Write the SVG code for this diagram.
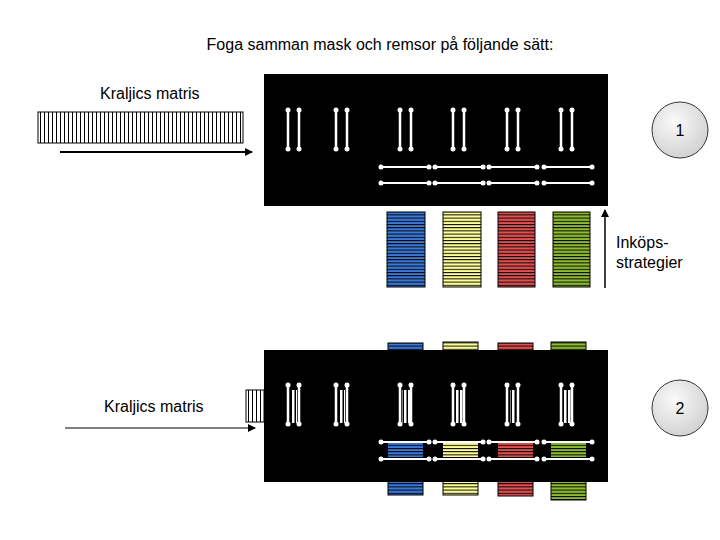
<svg xmlns="http://www.w3.org/2000/svg" width="720" height="540" viewBox="0 0 720 540">
<defs>
<pattern id="vs" width="4" height="10" patternUnits="userSpaceOnUse"><rect width="4" height="10" fill="#fff"/><rect x="0" width="1" height="10" fill="#000"/></pattern>
<pattern id="vw" width="4" height="10" patternUnits="userSpaceOnUse"><rect width="4" height="10" fill="#000"/><rect x="0" width="2.5" height="10" fill="#fff"/></pattern>
<pattern id="hb" width="10" height="3.2" patternUnits="userSpaceOnUse"><rect width="10" height="3.2" fill="#3b78d8"/><rect width="10" height="1" fill="#000"/></pattern>
<pattern id="hy" width="10" height="3.2" patternUnits="userSpaceOnUse"><rect width="10" height="3.2" fill="#ffff99"/><rect width="10" height="1" fill="#000"/></pattern>
<pattern id="hr" width="10" height="3.2" patternUnits="userSpaceOnUse"><rect width="10" height="3.2" fill="#e05050"/><rect width="10" height="1" fill="#000"/></pattern>
<pattern id="hg" width="10" height="3.2" patternUnits="userSpaceOnUse"><rect width="10" height="3.2" fill="#8dbb33"/><rect width="10" height="1" fill="#000"/></pattern>
<radialGradient id="cg" cx="0.4" cy="0.35" r="0.7"><stop offset="0" stop-color="#fafafa"/><stop offset="1" stop-color="#d0d0d0"/></radialGradient>
<marker id="ah" markerWidth="8" markerHeight="8" refX="7" refY="4" orient="auto" markerUnits="userSpaceOnUse"><path d="M0,0 L8,4 L0,8 z" fill="#000"/></marker>
<g id="vp"><line x1="0" y1="0" x2="0" y2="39" stroke="#fff" stroke-width="2.5"/><line x1="11" y1="0" x2="11" y2="39" stroke="#fff" stroke-width="2.5"/><circle cx="0" cy="0" r="2.5" fill="#fff"/><circle cx="11" cy="0" r="2.5" fill="#fff"/><circle cx="0" cy="39" r="2.5" fill="#fff"/><circle cx="11" cy="39" r="2.5" fill="#fff"/></g>
<g id="hs"><line x1="0" y1="0" x2="48" y2="0" stroke="#fff" stroke-width="2"/><circle cx="0" cy="0" r="2.5" fill="#fff"/><circle cx="48" cy="0" r="2.5" fill="#fff"/></g>
</defs>
<style>text{font-family:"Liberation Sans",Arial,sans-serif;font-size:16px;fill:#000}</style>
<rect width="720" height="540" fill="#fff"/>
<text x="380" y="50" text-anchor="middle">Foga samman mask och remsor på följande sätt:</text>

<g id="top">
<text x="100" y="99">Kraljics matris</text>
<rect x="38" y="112" width="205" height="31" fill="url(#vs)" stroke="#000"/>
<rect x="264" y="74" width="344" height="132" fill="#000"/>
<use href="#vp" x="288" y="110"/><use href="#vp" x="336" y="110"/><use href="#vp" x="400" y="110"/><use href="#vp" x="453" y="110"/><use href="#vp" x="507" y="110"/><use href="#vp" x="561" y="110"/>
<use href="#hs" x="381" y="167"/><use href="#hs" x="435" y="167"/><use href="#hs" x="489" y="167"/><use href="#hs" x="544" y="167"/>
<use href="#hs" x="381" y="183"/><use href="#hs" x="435" y="183"/><use href="#hs" x="489" y="183"/><use href="#hs" x="544" y="183"/>
<rect x="387" y="212" width="38" height="75" fill="url(#hb)" stroke="#000"/>
<rect x="443" y="212" width="38" height="75" fill="url(#hy)" stroke="#000"/>
<rect x="498" y="212" width="37" height="75" fill="url(#hr)" stroke="#000"/>
<rect x="553" y="212" width="37" height="75" fill="url(#hg)" stroke="#000"/>
<g id="c1"><circle cx="680" cy="130" r="28" fill="url(#cg)" stroke="#333"/><text x="680" y="136" text-anchor="middle">1</text></g>
<text x="616" y="248">Inköps-</text><text x="616" y="268">strategier</text>
</g>

<g id="bottom">
<text x="104" y="412">Kraljics matris</text>
<rect x="246" y="390" width="18" height="32" fill="url(#vs)" stroke="#000"/>
<rect x="388" y="343" width="35" height="152" fill="url(#hb)" stroke="#000"/>
<rect x="443" y="342" width="35" height="153" fill="url(#hy)" stroke="#000"/>
<rect x="498" y="343" width="35" height="153" fill="url(#hr)" stroke="#000"/>
<rect x="551" y="342" width="35" height="158" fill="url(#hg)" stroke="#000"/>
<rect x="264" y="350" width="344" height="132" fill="#000"/>
<rect x="291" y="390" width="6" height="33" fill="url(#vw)"/><rect x="339" y="390" width="6" height="33" fill="url(#vw)"/><rect x="402" y="390" width="8" height="33" fill="url(#vw)"/><rect x="456" y="390" width="7" height="33" fill="url(#vw)"/><rect x="510" y="390" width="6" height="33" fill="url(#vw)"/><rect x="563" y="390" width="8" height="33" fill="url(#vw)"/>
<use href="#vp" x="288" y="385"/><use href="#vp" x="336" y="385"/><use href="#vp" x="400" y="385"/><use href="#vp" x="453" y="385"/><use href="#vp" x="507" y="385"/><use href="#vp" x="561" y="385"/>
<rect x="388" y="443" width="35" height="14" fill="url(#hb)"/><rect x="443" y="443" width="35" height="14" fill="url(#hy)"/><rect x="498" y="443" width="35" height="14" fill="url(#hr)"/><rect x="551" y="443" width="35" height="14" fill="url(#hg)"/>
<use href="#hs" x="381" y="442"/><use href="#hs" x="435" y="442"/><use href="#hs" x="489" y="442"/><use href="#hs" x="544" y="442"/>
<use href="#hs" x="381" y="459"/><use href="#hs" x="435" y="459"/><use href="#hs" x="489" y="459"/><use href="#hs" x="544" y="459"/>
<g id="c2"><circle cx="680" cy="408" r="28" fill="url(#cg)" stroke="#333"/><text x="680" y="414" text-anchor="middle">2</text></g>
</g>

<g id="connectors" stroke="#000" stroke-width="2" fill="none">
<line x1="60" y1="152" x2="252" y2="152" marker-end="url(#ah)"/>
<line x1="605" y1="288" x2="605" y2="210" stroke-width="1.5" marker-end="url(#ah)"/>
<line x1="65" y1="428" x2="255" y2="428" stroke-width="1" marker-end="url(#ah)"/>
</g>
</svg>
